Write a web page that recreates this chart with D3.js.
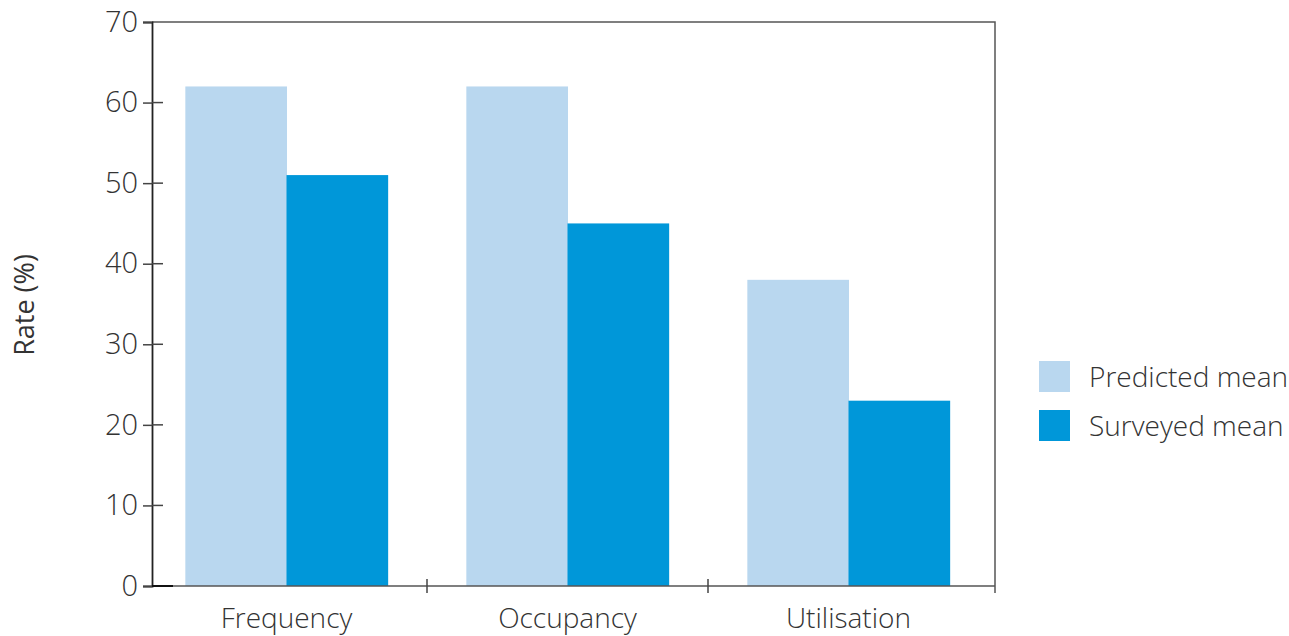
<!DOCTYPE html>
<html>
<head>
<meta charset="utf-8">
<script src="https://cdn.jsdelivr.net/npm/d3@7"></script>
<style>
  body { margin: 0; background: #fff; }
  text { font-family: "Open Sans", "DejaVu Sans", sans-serif; fill: #333; }
</style>
</head>
<body>
<div id="chart"></div>
<script>
// chart data
const categories = ["Frequency", "Occupancy", "Utilisation"];
const seriesNames = ["Predicted mean", "Surveyed mean"];
const predicted = [62, 62, 38];
const surveyed = [51, 45, 23];
const yTicks = [0, 10, 20, 30, 40, 50, 60, 70];
const colors = ["#b9d7ef", "#0097d9"];

const width = 1289, height = 636;
const frame = {left: 152, right: 995, top: 22, bottom: 586};

const svg = d3.select("#chart").append("svg")
    .attr("width", width)
    .attr("height", height);

// scales
const y = d3.scaleLinear().domain([0, 70]).range([frame.bottom, frame.top]);
const x = d3.scaleBand().domain(categories).range([146, 989])
    .paddingInner(0.28).paddingOuter(0.14);
const xs = d3.scaleBand().domain(seriesNames).range([0, x.bandwidth()]);

// bars
const rows = categories.map((c, i) => ({cat: c, vals: [predicted[i], surveyed[i]]}));
const groups = svg.append("g").selectAll("g")
    .data(rows)
    .join("g")
    .attr("transform", d => "translate(" + x(d.cat) + ",0)");

groups.selectAll("rect")
    .data(d => d.vals.map((v, j) => ({name: seriesNames[j], v: v, j: j})))
    .join("rect")
    .attr("x", d => xs(d.name))
    .attr("width", xs.bandwidth() + 0.5)
    .attr("y", d => y(d.v))
    .attr("height", d => y(0) - y(d.v))
    .attr("fill", d => colors[d.j]);

// frame (top, right, bottom)
svg.append("path")
    .attr("d", "M" + frame.left + "," + frame.top + "H" + frame.right + "V" + (frame.bottom + 7) +
        "M" + frame.right + "," + frame.bottom + "H" + frame.left)
    .attr("fill", "none")
    .attr("stroke", "#555")
    .attr("stroke-width", 1.5);

// y axis
const yAxis = svg.append("g")
    .attr("transform", "translate(" + frame.left + ",0)")
    .call(d3.axisLeft(y).tickValues(yTicks).tickSize(9).tickPadding(5));
yAxis.select(".domain").attr("stroke", "#222").attr("stroke-width", 1.8);
yAxis.selectAll(".tick line").attr("stroke", "#444").attr("stroke-width", 1.5);
yAxis.selectAll(".tick text")
    .style("font-size", "29px")
    .style("font-weight", 300)
    .attr("fill", "#333");

// inner tick parts
svg.append("g").selectAll("line")
    .data(yTicks.filter(t => t < 70))
    .join("line")
    .attr("x1", frame.left)
    .attr("x2", d => d === 0 ? frame.left + 21 : frame.left + 11)
    .attr("y1", d => y(d))
    .attr("y2", d => y(d))
    .attr("stroke", d => d === 0 ? "#111" : "#444")
    .attr("stroke-width", d => d === 0 ? 2 : 1.5);

// x category separators
const step = x.step();
svg.append("g").selectAll("line")
    .data(categories.slice(0, 2))
    .join("line")
    .attr("x1", d => x(d) + x.bandwidth() + (step - x.bandwidth()) / 2)
    .attr("x2", d => x(d) + x.bandwidth() + (step - x.bandwidth()) / 2)
    .attr("y1", frame.bottom - 7)
    .attr("y2", frame.bottom + 7)
    .attr("stroke", "#444")
    .attr("stroke-width", 1.5);

// x labels
svg.append("g").selectAll("text")
    .data(categories)
    .join("text")
    .attr("x", d => x(d) + x.bandwidth() / 2)
    .attr("y", 628)
    .attr("text-anchor", "middle")
    .style("font-size", "28px")
    .style("font-weight", 300)
    .text(d => d);

// y label
svg.append("text")
    .attr("transform", "translate(34,305) rotate(-90)")
    .attr("text-anchor", "middle")
    .style("font-size", "27px")
    .style("font-weight", 500)
    .text("Rate (%)");

// legend
const legend = svg.append("g").selectAll("g")
    .data(seriesNames)
    .join("g")
    .attr("transform", (d, i) => "translate(1039," + (361 + i * 49) + ")");
legend.append("rect")
    .attr("width", 31)
    .attr("height", 31)
    .attr("fill", (d, i) => colors[i]);
legend.append("text")
    .attr("x", 50)
    .attr("y", 16)
    .attr("dy", "0.35em")
    .style("font-size", "28px")
    .style("font-weight", 300)
    .text(d => d);
</script>
</body>
</html>
